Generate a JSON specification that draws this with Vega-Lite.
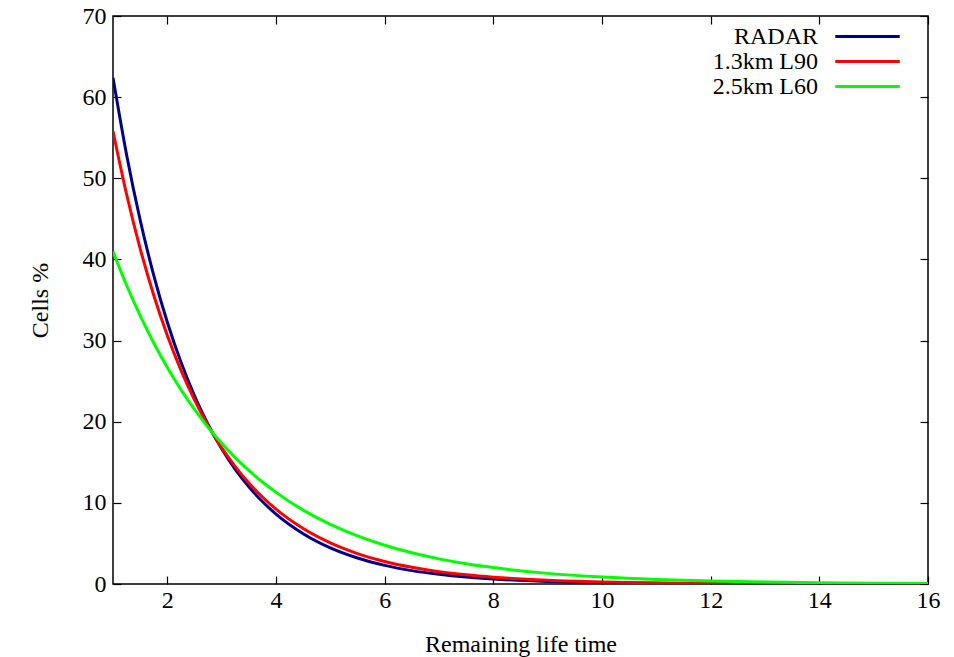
{
  "$schema": "https://vega.github.io/schema/vega-lite/v6.json",
  "width": 815,
  "height": 568,
  "autosize": "none",
  "padding": {"left": 113, "top": 16, "right": 26, "bottom": 73},
  "background": "white",
  "config": {
    "view": {"stroke": "black", "strokeWidth": 1.5},
    "font": "Liberation Serif",
    "axis": {
      "grid": false,
      "domain": false,
      "tickColor": "black",
      "tickWidth": 1.2,
      "tickSize": -8,
      "labelFlush": false,
      "labelFont": "Liberation Serif",
      "labelFontSize": 24,
      "labelColor": "black",
      "titleFont": "Liberation Serif",
      "titleFontSize": 24,
      "titleFontWeight": "normal",
      "titleColor": "black"
    },
    "legend": {
      "labelFont": "Liberation Serif",
      "labelFontSize": 24,
      "labelColor": "black"
    }
  },
  "data": {
    "values": [
      {"t": 1, "s": "RADAR", "v": 62.4}, {"t": 1.25, "s": "RADAR", "v": 52.91}, {"t": 1.5, "s": "RADAR", "v": 44.86}, {"t": 1.75, "s": "RADAR", "v": 38.04},
      {"t": 2, "s": "RADAR", "v": 32.25}, {"t": 2.25, "s": "RADAR", "v": 27.35}, {"t": 2.5, "s": "RADAR", "v": 23.19}, {"t": 2.75, "s": "RADAR", "v": 19.66},
      {"t": 3, "s": "RADAR", "v": 16.67}, {"t": 3.25, "s": "RADAR", "v": 14.14}, {"t": 3.5, "s": "RADAR", "v": 11.99}, {"t": 3.75, "s": "RADAR", "v": 10.16},
      {"t": 4, "s": "RADAR", "v": 8.62}, {"t": 4.5, "s": "RADAR", "v": 6.2}, {"t": 5, "s": "RADAR", "v": 4.45}, {"t": 5.5, "s": "RADAR", "v": 3.2},
      {"t": 6, "s": "RADAR", "v": 2.3}, {"t": 6.5, "s": "RADAR", "v": 1.65}, {"t": 7, "s": "RADAR", "v": 1.19}, {"t": 7.5, "s": "RADAR", "v": 0.855},
      {"t": 8, "s": "RADAR", "v": 0.615}, {"t": 9, "s": "RADAR", "v": 0.318}, {"t": 10, "s": "RADAR", "v": 0.164}, {"t": 11, "s": "RADAR", "v": 0.085},
      {"t": 12, "s": "RADAR", "v": 0.044}, {"t": 13, "s": "RADAR", "v": 0.023}, {"t": 14, "s": "RADAR", "v": 0.012}, {"t": 15, "s": "RADAR", "v": 0.006},
      {"t": 16, "s": "RADAR", "v": 0.003},
      {"t": 1, "s": "1.3km L90", "v": 55.8}, {"t": 1.25, "s": "1.3km L90", "v": 48.03}, {"t": 1.5, "s": "1.3km L90", "v": 41.34}, {"t": 1.75, "s": "1.3km L90", "v": 35.58},
      {"t": 2, "s": "1.3km L90", "v": 30.62}, {"t": 2.25, "s": "1.3km L90", "v": 26.36}, {"t": 2.5, "s": "1.3km L90", "v": 22.69}, {"t": 2.75, "s": "1.3km L90", "v": 19.53},
      {"t": 3, "s": "1.3km L90", "v": 16.81}, {"t": 3.25, "s": "1.3km L90", "v": 14.47}, {"t": 3.5, "s": "1.3km L90", "v": 12.45}, {"t": 3.75, "s": "1.3km L90", "v": 10.72},
      {"t": 4, "s": "1.3km L90", "v": 9.22}, {"t": 4.5, "s": "1.3km L90", "v": 6.83}, {"t": 5, "s": "1.3km L90", "v": 5.06}, {"t": 5.5, "s": "1.3km L90", "v": 3.75},
      {"t": 6, "s": "1.3km L90", "v": 2.78}, {"t": 6.5, "s": "1.3km L90", "v": 2.06}, {"t": 7, "s": "1.3km L90", "v": 1.52}, {"t": 7.5, "s": "1.3km L90", "v": 1.13},
      {"t": 8, "s": "1.3km L90", "v": 0.836}, {"t": 9, "s": "1.3km L90", "v": 0.459}, {"t": 10, "s": "1.3km L90", "v": 0.252}, {"t": 11, "s": "1.3km L90", "v": 0.138},
      {"t": 12, "s": "1.3km L90", "v": 0.076}, {"t": 13, "s": "1.3km L90", "v": 0.042}, {"t": 14, "s": "1.3km L90", "v": 0.023}, {"t": 15, "s": "1.3km L90", "v": 0.013},
      {"t": 16, "s": "1.3km L90", "v": 0.007},
      {"t": 1, "s": "2.5km L60", "v": 41.0}, {"t": 1.25, "s": "2.5km L60", "v": 36.82}, {"t": 1.5, "s": "2.5km L60", "v": 33.07}, {"t": 1.75, "s": "2.5km L60", "v": 29.7},
      {"t": 2, "s": "2.5km L60", "v": 26.67}, {"t": 2.25, "s": "2.5km L60", "v": 23.95}, {"t": 2.5, "s": "2.5km L60", "v": 21.51}, {"t": 2.75, "s": "2.5km L60", "v": 19.32},
      {"t": 3, "s": "2.5km L60", "v": 17.35}, {"t": 3.25, "s": "2.5km L60", "v": 15.58}, {"t": 3.5, "s": "2.5km L60", "v": 13.99}, {"t": 3.75, "s": "2.5km L60", "v": 12.57},
      {"t": 4, "s": "2.5km L60", "v": 11.29}, {"t": 4.5, "s": "2.5km L60", "v": 9.1}, {"t": 5, "s": "2.5km L60", "v": 7.34}, {"t": 5.5, "s": "2.5km L60", "v": 5.92},
      {"t": 6, "s": "2.5km L60", "v": 4.77}, {"t": 6.5, "s": "2.5km L60", "v": 3.85}, {"t": 7, "s": "2.5km L60", "v": 3.1}, {"t": 7.5, "s": "2.5km L60", "v": 2.5},
      {"t": 8, "s": "2.5km L60", "v": 2.02}, {"t": 9, "s": "2.5km L60", "v": 1.31}, {"t": 10, "s": "2.5km L60", "v": 0.855}, {"t": 11, "s": "2.5km L60", "v": 0.556},
      {"t": 12, "s": "2.5km L60", "v": 0.362}, {"t": 13, "s": "2.5km L60", "v": 0.235}, {"t": 14, "s": "2.5km L60", "v": 0.153}, {"t": 15, "s": "2.5km L60", "v": 0.1},
      {"t": 16, "s": "2.5km L60", "v": 0.065}
    ]
  },
  "layer": [
    {
      "mark": {"type": "line", "opacity": 0},
      "encoding": {
        "x": {"field": "t", "type": "quantitative", "scale": {"domain": [1, 16], "nice": false, "zero": false},
              "axis": {"orient": "top", "values": [2, 4, 6, 8, 10, 12, 14, 16], "labels": false, "title": null}},
        "y": {"field": "v", "type": "quantitative", "scale": {"domain": [0, 70], "nice": false},
              "axis": {"orient": "right", "values": [0, 10, 20, 30, 40, 50, 60, 70], "labels": false, "title": null}},
        "detail": {"field": "s"}
      }
    },
    {
      "mark": {"type": "line", "strokeWidth": 3, "clip": true, "interpolate": "monotone"},
      "encoding": {
        "x": {"field": "t", "type": "quantitative", "scale": {"domain": [1, 16], "nice": false, "zero": false},
              "axis": {"orient": "bottom", "values": [2, 4, 6, 8, 10, 12, 14, 16], "title": "Remaining life time", "labelPadding": 12, "titlePadding": 20}},
        "y": {"field": "v", "type": "quantitative", "scale": {"domain": [0, 70], "nice": false},
              "axis": {"orient": "left", "values": [0, 10, 20, 30, 40, 50, 60, 70], "title": "Cells %", "labelPadding": 15, "titlePadding": 30}},
        "color": {
          "field": "s", "type": "nominal",
          "scale": {"domain": ["RADAR", "1.3km L90", "2.5km L60"], "range": ["#00008b", "#ff0000", "#00ff00"]},
          "legend": {
            "title": null,
            "orient": "none",
            "legendX": 742,
            "legendY": 8,
            "symbolType": "M-3,0H3",
            "symbolSize": 462,
            "symbolStrokeWidth": 3,
            "symbolFillColor": "transparent",
            "labelAlign": "right",
            "labelOffset": -62,
            "rowPadding": 0
          }
        }
      }
    }
  ],
  "resolve": {"axis": {"x": "independent", "y": "independent"}}
}
